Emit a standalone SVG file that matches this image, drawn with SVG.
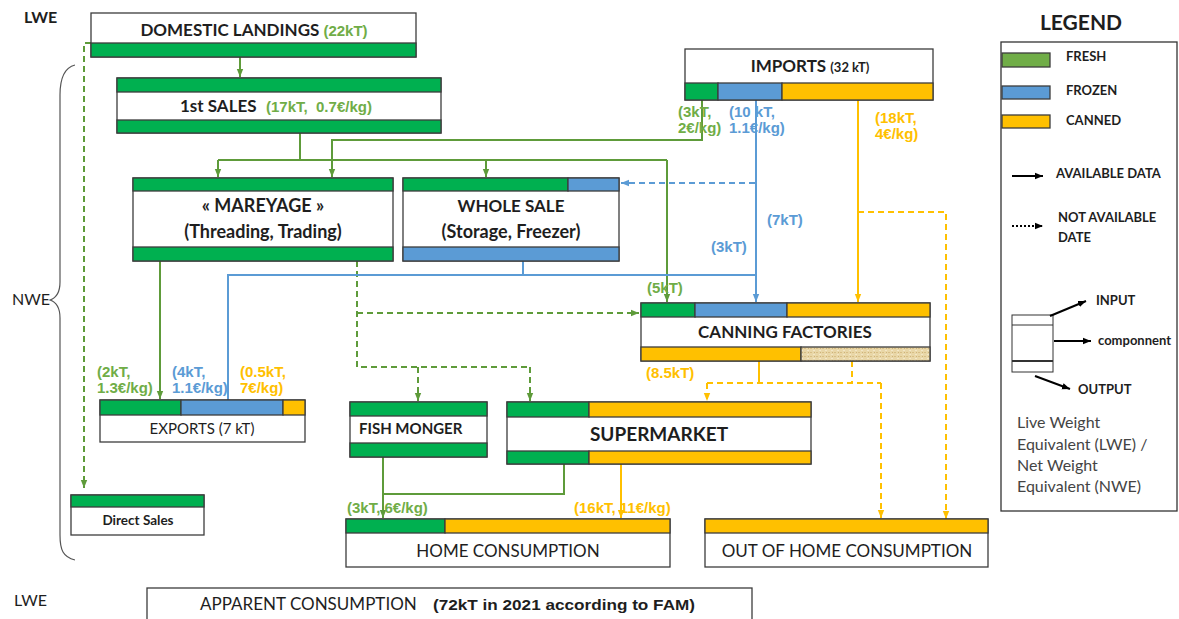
<svg xmlns="http://www.w3.org/2000/svg" width="1179" height="619" viewBox="0 0 1179 619">
<defs>
<style>
.box{fill:#fff;stroke:#3c3c3c;stroke-width:1.3}
.g{fill:#00B050;stroke:#3c3c3c;stroke-width:1.3}
.b{fill:#5B9BD5;stroke:#3c3c3c;stroke-width:1.3}
.y{fill:#FFC000;stroke:#3c3c3c;stroke-width:1.3}
.tan{fill:url(#tex);stroke:#3c3c3c;stroke-width:1.3}
.t{font-family:Lato,'Liberation Sans',sans-serif;font-weight:bold;fill:#1e1e1e}
.r{font-family:Lato,'Liberation Sans',sans-serif;font-weight:normal;fill:#1e1e1e}
.v{font-family:'Liberation Sans',Arial,sans-serif;font-weight:bold;font-size:15px}
.vg{fill:#70AD47}.vb{fill:#5B9BD5}.vy{fill:#FFC000}
.lg{fill:none;stroke:#5E9B3A;stroke-width:2}
.lb{fill:none;stroke:#5B9BD5;stroke-width:2}
.ly{fill:none;stroke:#FFC000;stroke-width:2}
.d{stroke-dasharray:6 4}
.lk{fill:none;stroke:#000;stroke-width:2}
.lgd{font-family:Lato,'Liberation Sans',sans-serif;font-weight:bold;font-size:13px;fill:#1e1e1e}
.note{font-family:Lato,'Liberation Sans',sans-serif;font-size:16px;fill:#444}
</style>
<pattern id="tex" width="6" height="4" patternUnits="userSpaceOnUse">
<rect width="6" height="4" fill="#E9D7A8"/>
<rect x="0" y="0" width="2" height="1" fill="#D8BE85"/>
<rect x="3" y="2" width="2" height="1" fill="#F3E7C8"/>
<rect x="4" y="0" width="1" height="1" fill="#CDB27A"/>
</pattern>
<marker id="ag" viewBox="0 0 10 10" refX="10" refY="5" markerWidth="8" markerHeight="8" markerUnits="userSpaceOnUse" orient="auto"><path d="M0,1 L10,5 L0,9 z" fill="#5E9B3A"/></marker>
<marker id="ab" viewBox="0 0 10 10" refX="10" refY="5" markerWidth="8" markerHeight="8" markerUnits="userSpaceOnUse" orient="auto"><path d="M0,1 L10,5 L0,9 z" fill="#5B9BD5"/></marker>
<marker id="ay" viewBox="0 0 10 10" refX="10" refY="5" markerWidth="8" markerHeight="8" markerUnits="userSpaceOnUse" orient="auto"><path d="M0,1 L10,5 L0,9 z" fill="#FFC000"/></marker>
<marker id="ak" viewBox="0 0 10 10" refX="10" refY="5" markerWidth="8" markerHeight="8" markerUnits="userSpaceOnUse" orient="auto"><path d="M0,1 L10,5 L0,9 z" fill="#000"/></marker>
</defs>
<rect width="1179" height="619" fill="#fff"/>

<g id="side-labels">
<text x="24" y="23" class="t" font-size="16">LWE</text>
<text x="12" y="305" class="r" font-size="16">NWE</text>
<text x="14" y="606" class="r" font-size="16">LWE</text>
<path d="M75,65 C63,68 60,80 60,95 L60,282 C60,293 56,298 50,300 C56,302 60,307 60,318 L60,535 C60,550 63,557 75,560" fill="none" stroke="#555" stroke-width="1.2"/>
</g>

<g id="connectors">
<path class="lg" d="M240,57 V77" marker-end="url(#ag)"/>
<path class="lg" d="M300,133 V160 M218,160 H667"/>
<path class="lg" d="M218,160 V177" marker-end="url(#ag)"/>
<path class="lg" d="M486,160 V177" marker-end="url(#ag)"/>
<path class="lg" d="M667,160 V302" marker-end="url(#ag)"/>
<path class="lg" d="M702,100 V140 H332 V177" marker-end="url(#ag)"/>
<path class="lg" d="M160,261 V399" marker-end="url(#ag)"/>
<path class="lg" d="M383,457 V518" marker-end="url(#ag)"/>
<path class="lg" d="M564,464 V494 H383"/>
<path class="lg d" d="M91,43 H84 V488" marker-end="url(#ag)"/>
<path class="lg d" d="M357,261 V367 H530"/>
<path class="lg d" d="M357,313 H639" marker-end="url(#ag)"/>
<path class="lg d" d="M418,367 V401" marker-end="url(#ag)"/>
<path class="lg d" d="M530,367 V401" marker-end="url(#ag)"/>
<path class="lb" d="M756,100 V302" marker-end="url(#ab)"/>
<path class="lb" d="M756,275 H228 V400"/>
<path class="lb" d="M523,261 V275"/>
<path class="lb d" d="M755,183 H621" marker-end="url(#ab)"/>
<path class="ly" d="M858,100 V302" marker-end="url(#ay)"/>
<path class="ly" d="M759,361 V383"/>
<path class="ly" d="M621,464 V518" marker-end="url(#ay)"/>
<path class="ly d" d="M858,212 H946 V519" marker-end="url(#ay)"/>
<path class="ly d" d="M852,361 V383"/>
<path class="ly d" d="M707,383 H881"/>
<path class="ly d" d="M707,383 V401" marker-end="url(#ay)"/>
<path class="ly d" d="M881,383 V518" marker-end="url(#ay)"/>
</g>

<g id="flow-labels" class="v">
<text x="678" y="117" class="vg">(3kT,</text>
<text x="678" y="133" class="vg">2€/kg)</text>
<text x="729" y="117" class="vb">(10 kT,</text>
<text x="729" y="133" class="vb">1.1€/kg)</text>
<text x="875" y="123" class="vy">(18kT,</text>
<text x="875" y="139" class="vy">4€/kg)</text>
<text x="767" y="225" class="vb">(7kT)</text>
<text x="711" y="252" class="vb">(3kT)</text>
<text x="647" y="293" class="vg">(5kT)</text>
<text x="646" y="378" class="vy">(8.5kT)</text>
<text x="97" y="377" class="vg">(2kT,</text>
<text x="97" y="393" class="vg">1.3€/kg)</text>
<text x="172" y="377" class="vb">(4kT,</text>
<text x="172" y="393" class="vb">1.1€/kg)</text>
<text x="240" y="377" class="vy">(0.5kT,</text>
<text x="240" y="393" class="vy">7€/kg)</text>
<text x="347" y="513" class="vg">(3kT, 6€/kg)</text>
<text x="574" y="513" class="vy">(16kT, 11€/kg)</text>
</g>

<g id="domestic-landings">
<rect class="box" x="91" y="13" width="325" height="44"/>
<rect class="g" x="91" y="43" width="325" height="14"/>
<text x="254" y="36" text-anchor="middle" class="t" font-size="17">DOMESTIC LANDINGS <tspan class="v vg" font-size="14">(22kT)</tspan></text>
</g>

<g id="first-sales">
<rect class="box" x="117" y="78" width="324" height="55"/>
<rect class="g" x="117" y="78" width="324" height="14"/>
<rect class="g" x="117" y="120" width="324" height="13"/>
<text x="180" y="112" class="t" font-size="17">1st SALES</text>
<text x="266" y="112" class="v vg" style="white-space:pre">(17kT,  0.7€/kg)</text>
</g>

<g id="imports">
<rect class="box" x="685" y="49" width="248" height="51"/>
<rect class="g" x="685" y="83" width="33" height="17"/>
<rect class="b" x="718" y="83" width="64" height="17"/>
<rect class="y" x="782" y="83" width="151" height="17"/>
<text x="810" y="72" text-anchor="middle" class="t" font-size="17">IMPORTS <tspan font-size="13">(32 kT)</tspan></text>
</g>

<g id="mareyage">
<rect class="box" x="133" y="178" width="260" height="83"/>
<rect class="g" x="133" y="178" width="260" height="13"/>
<rect class="g" x="133" y="247" width="260" height="14"/>
<text x="263" y="212" text-anchor="middle" class="t" font-size="18">« MAREYAGE »</text>
<text x="263" y="238" text-anchor="middle" class="t" font-size="18">(Threading, Trading)</text>
</g>

<g id="whole-sale">
<rect class="box" x="403" y="178" width="216" height="83"/>
<rect class="g" x="403" y="178" width="165" height="13"/>
<rect class="b" x="568" y="178" width="51" height="13"/>
<rect class="b" x="403" y="247" width="216" height="14"/>
<text x="511" y="212" text-anchor="middle" class="t" font-size="17">WHOLE SALE</text>
<text x="511" y="238" text-anchor="middle" class="t" font-size="18">(Storage, Freezer)</text>
</g>

<g id="canning-factories">
<rect class="box" x="641" y="303" width="289" height="58"/>
<rect class="g" x="641" y="303" width="54" height="14"/>
<rect class="b" x="695" y="303" width="92" height="14"/>
<rect class="y" x="787" y="303" width="143" height="14"/>
<rect class="y" x="641" y="347" width="160" height="14"/>
<rect class="tan" x="801" y="347" width="129" height="14"/>
<text x="785" y="338" text-anchor="middle" class="t" font-size="17">CANNING FACTORIES</text>
</g>

<g id="exports">
<rect class="box" x="100" y="400" width="205" height="42"/>
<rect class="g" x="100" y="400" width="81" height="15"/>
<rect class="b" x="181" y="400" width="102" height="15"/>
<rect class="y" x="283" y="400" width="22" height="15"/>
<text x="202" y="434" text-anchor="middle" class="r" font-size="15">EXPORTS (7 kT)</text>
</g>

<g id="fish-monger">
<rect class="box" x="350" y="402" width="137" height="55"/>
<rect class="g" x="350" y="402" width="137" height="14"/>
<rect class="g" x="350" y="443" width="137" height="14"/>
<text x="359" y="434" class="t" font-size="15">FISH MONGER</text>
</g>

<g id="supermarket">
<rect class="box" x="507" y="402" width="304" height="62"/>
<rect class="g" x="507" y="402" width="82" height="15"/>
<rect class="y" x="589" y="402" width="222" height="15"/>
<rect class="g" x="507" y="451" width="82" height="13"/>
<rect class="y" x="589" y="451" width="222" height="13"/>
<text x="659" y="441" text-anchor="middle" class="t" font-size="19">SUPERMARKET</text>
</g>

<g id="direct-sales">
<rect class="box" x="71" y="495" width="133" height="40"/>
<rect class="g" x="71" y="495" width="133" height="12"/>
<text x="138" y="525" text-anchor="middle" class="t" font-size="13.5">Direct Sales</text>
</g>

<g id="home-consumption">
<rect class="box" x="346" y="519" width="324" height="48"/>
<rect class="g" x="346" y="519" width="99" height="14"/>
<rect class="y" x="445" y="519" width="225" height="14"/>
<text x="508" y="557" text-anchor="middle" class="r" font-size="17">HOME CONSUMPTION</text>
</g>

<g id="out-of-home-consumption">
<rect class="box" x="705" y="519" width="283" height="48"/>
<rect class="y" x="705" y="519" width="283" height="14"/>
<text x="847" y="557" text-anchor="middle" class="r" font-size="17">OUT OF HOME CONSUMPTION</text>
</g>

<g id="apparent-consumption">
<rect class="box" x="147" y="588" width="605" height="40"/>
<text x="200" y="610" class="r" font-size="17">APPARENT CONSUMPTION</text>
<text x="433" y="610" class="v" font-size="14" fill="#1e1e1e" textLength="262" lengthAdjust="spacingAndGlyphs">(72kT in 2021 according to FAM)</text>
</g>

<g id="legend">
<text x="1081" y="30" text-anchor="middle" class="t" font-size="21">LEGEND</text>
<rect x="1001" y="42" width="176" height="469" fill="#fff" stroke="#333" stroke-width="1.3"/>
<rect class="g" x="1002" y="53" width="48" height="14" style="fill:#70AD47"/>
<rect class="b" x="1002" y="86" width="48" height="13"/>
<rect class="y" x="1002" y="115" width="48" height="13"/>
<text x="1066" y="61" class="lgd">FRESH</text>
<text x="1066" y="95" class="lgd">FROZEN</text>
<text x="1066" y="125" class="lgd">CANNED</text>
<path class="lk" d="M1012,176 H1043" marker-end="url(#ak)"/>
<text x="1056" y="178" class="lgd">AVAILABLE DATA</text>
<path class="lk" d="M1012,226 H1043" stroke-dasharray="2 2" marker-end="url(#ak)"/>
<text x="1058" y="222" class="lgd">NOT AVAILABLE</text>
<text x="1058" y="242" class="lgd">DATE</text>
<rect x="1012" y="315" width="41" height="57" fill="#fff" stroke="#333" stroke-width="1"/>
<path d="M1012,325 H1053" stroke="#333" stroke-width="1"/>
<path d="M1012,361 H1053" stroke="#333" stroke-width="2"/>
<path class="lk" d="M1050,316 L1086,301" marker-end="url(#ak)"/>
<text x="1096" y="305" class="lgd">INPUT</text>
<path class="lk" d="M1054,341 H1091" marker-end="url(#ak)"/>
<text x="1098" y="345" class="lgd">componnent</text>
<path class="lk" d="M1035,376 L1070,389" marker-end="url(#ak)"/>
<text x="1078" y="394" class="lgd">OUTPUT</text>
<text x="1017" y="428" class="note">Live Weight</text>
<text x="1017" y="450" class="note">Equivalent (LWE) /</text>
<text x="1017" y="471" class="note">Net Weight</text>
<text x="1017" y="492" class="note">Equivalent (NWE)</text>
</g>
</svg>
